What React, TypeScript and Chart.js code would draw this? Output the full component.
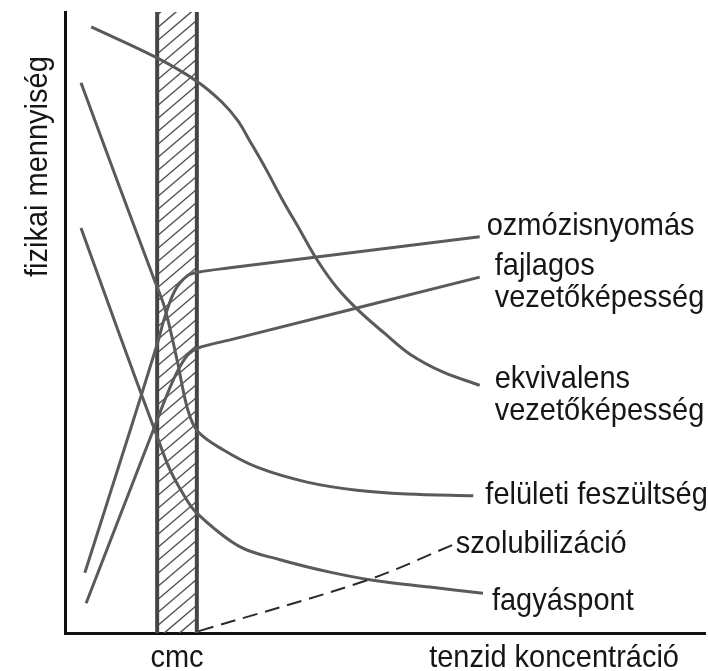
import React, { useEffect, useRef } from 'react';
import { Chart, registerables } from 'chart.js';

Chart.register(...registerables);

// ---- data (x: tenzid koncentráció, y: fizikai mennyiség, both 0..100 relative units) ----
const cmcRange = [14.4, 20.6];
const cmcLabel = 'cmc';
const xAxisTitle = 'tenzid koncentráció';
const yAxisTitle = 'fizikai mennyiség';

const ozmozisX = [3.1, 10.2, 14.4, 15.6, 17.2, 19.1, 20.8, 25.8, 64.8];
const ozmozisY = [9.7, 32.7, 46.5, 50.9, 55.2, 57.5, 58.1, 58.8, 63.8];

const fajlagosX = [3.3, 13.8, 15.6, 17.5, 19.2, 20.8, 25.8, 64.8];
const fajlagosY = [4.8, 32.7, 37.5, 42.0, 44.8, 45.9, 47.2, 57.3];

const ekvivalensX = [4.1, 14.4, 20.8, 24.5, 27.0, 28.9, 31.3, 33.9, 36.7, 39.5, 42.5, 46.1, 50.0, 53.9, 59.1, 64.8];
const ekvivalensY = [97.6, 92.6, 88.7, 85.5, 82.5, 79.2, 74.9, 69.9, 64.9, 59.9, 55.6, 51.7, 48.2, 44.9, 42.0, 39.9];

const feluletiX = [2.5, 8.1, 13.8, 15.6, 17.5, 19.2, 20.8, 24.7, 30.0, 37.8, 45.6, 53.4, 63.8];
const feluletiY = [88.6, 73.0, 57.3, 52.3, 44.0, 35.9, 32.4, 29.5, 26.7, 24.3, 23.0, 22.4, 22.1];

const szolubX = [20.9, 47.2, 60.6];
const szolubY = [0.3, 8.5, 14.2];

const fagyasX = [2.5, 8.4, 14.4, 16.4, 18.4, 20.6, 27.3, 33.6, 41.4, 48.1, 57.0, 65.3];
const fagyasY = [65.2, 48.4, 31.6, 26.3, 22.5, 19.3, 13.9, 11.8, 9.8, 8.5, 7.4, 6.4];

const seriesNames = [
  ['ozmózisnyomás'],
  ['fajlagos', 'vezetőképesség'],
  ['ekvivalens', 'vezetőképesség'],
  ['felületi feszültség'],
  ['szolubilizáció'],
  ['fagyáspont'],
];

const toPoints = (xs: number[], ys: number[]) => xs.map((x, i) => ({ x, y: ys[i] }));

const FONT = "29px 'Liberation Sans', Arial, Helvetica, sans-serif";
const TEXT_COLOR = '#161616';
const CURVE_COLOR = '#5a5a5a';
const TEXT_STRETCH = 1.08;

// label offsets (px) from each series' last point
const labelStyle = [
  { dx: 7, dy: -2 },
  { dx: 15, dy: -2 },
  { dx: 15, dy: 3 },
  { dx: 12, dy: 8 },
  { dx: 3, dy: 8 },
  { dx: 9, dy: 17 },
];
const LINE_GAP = 32;

function drawText(ctx: CanvasRenderingContext2D, text: string, x: number, y: number, align: CanvasTextAlign) {
  ctx.save();
  ctx.translate(x, y);
  ctx.scale(1, TEXT_STRETCH);
  ctx.textAlign = align;
  ctx.fillText(text, 0, 0);
  ctx.restore();
}

const bandPlugin = {
  id: 'cmcBand',
  beforeDatasetsDraw(chart: any) {
    const { ctx, chartArea, scales } = chart;
    const x0 = scales.x.getPixelForValue(cmcRange[0]);
    const x1 = scales.x.getPixelForValue(cmcRange[1]);
    const top = chartArea.top;
    const bottom = chartArea.bottom;
    ctx.save();
    ctx.beginPath();
    ctx.rect(x0, top, x1 - x0, bottom - top);
    ctx.clip();
    ctx.strokeStyle = '#555';
    ctx.lineWidth = 1.5;
    const rise = (x1 - x0) * 0.85;
    ctx.beginPath();
    for (let y = top - 10; y < bottom + rise + 13; y += 13) {
      ctx.moveTo(x0, y);
      ctx.lineTo(x1, y - rise);
    }
    ctx.stroke();
    ctx.restore();

    ctx.save();
    ctx.strokeStyle = '#454545';
    ctx.lineWidth = 4;
    ctx.beginPath();
    ctx.moveTo(x0, top);
    ctx.lineTo(x0, bottom);
    ctx.moveTo(x1, top);
    ctx.lineTo(x1, bottom);
    ctx.stroke();
    ctx.restore();
  },
};

const textPlugin = {
  id: 'texts',
  afterDraw(chart: any) {
    const { ctx, chartArea, scales } = chart;
    ctx.save();
    ctx.font = FONT;
    ctx.fillStyle = TEXT_COLOR;
    ctx.textBaseline = 'alphabetic';
    chart.data.datasets.forEach((ds: any, i: number) => {
      const meta = chart.getDatasetMeta(i);
      const last = meta.data[meta.data.length - 1];
      if (!last) return;
      const st = labelStyle[i];
      seriesNames[i].forEach((line, j) => {
        drawText(ctx, line, last.x + st.dx, last.y + st.dy + j * LINE_GAP, 'left');
      });
    });

    // x axis: cmc label under band, title at right end
    const xc = (scales.x.getPixelForValue(cmcRange[0]) + scales.x.getPixelForValue(cmcRange[1])) / 2;
    drawText(ctx, cmcLabel, xc, chartArea.bottom + 34, 'center');
    drawText(ctx, xAxisTitle, chartArea.right - 26, chartArea.bottom + 34, 'right');

    // y axis title (rotated)
    ctx.translate(chartArea.left - 18, chartArea.top + 265);
    ctx.rotate(-Math.PI / 2);
    ctx.scale(1, TEXT_STRETCH);
    ctx.textAlign = 'left';
    ctx.fillText(yAxisTitle, 0, 0);
    ctx.restore();
  },
};

export default function App() {
  const ref = useRef<HTMLCanvasElement | null>(null);

  useEffect(() => {
    if (!ref.current) return;
    const solid = {
      showLine: true,
      pointRadius: 0,
      borderColor: CURVE_COLOR,
      borderWidth: 3,
      tension: 0.35,
      fill: false,
    };
    const chart = new Chart(ref.current, {
      type: 'scatter',
      data: {
        datasets: [
          { ...solid, label: seriesNames[0].join(' '), data: toPoints(ozmozisX, ozmozisY) },
          { ...solid, label: seriesNames[1].join(' '), data: toPoints(fajlagosX, fajlagosY) },
          { ...solid, label: seriesNames[2].join(' '), data: toPoints(ekvivalensX, ekvivalensY) },
          { ...solid, label: seriesNames[3].join(' '), data: toPoints(feluletiX, feluletiY) },
          {
            ...solid,
            label: seriesNames[4].join(' '),
            data: toPoints(szolubX, szolubY),
            borderColor: '#2a2a2a',
            borderWidth: 2,
            borderDash: [15, 8],
          },
          { ...solid, label: seriesNames[5].join(' '), data: toPoints(fagyasX, fagyasY) },
        ],
      },
      options: {
        responsive: false,
        animation: false,
        devicePixelRatio: 1,
        layout: { padding: { left: 65, top: 12, right: 3, bottom: 38 } },
        plugins: { legend: { display: false }, tooltip: { enabled: false } },
        scales: {
          x: {
            type: 'linear',
            min: 0,
            max: 100,
            ticks: { display: false },
            grid: { display: false, drawTicks: false },
            border: { display: true, color: '#111', width: 3 },
          },
          y: {
            type: 'linear',
            min: 0,
            max: 100,
            ticks: { display: false },
            grid: { display: false, drawTicks: false },
            border: { display: true, color: '#111', width: 3 },
          },
        },
      },
      plugins: [bandPlugin, textPlugin],
    });
    return () => chart.destroy();
  }, []);

  return (
    <div style={{ position: 'absolute', left: 0, top: 0, width: 708, height: 671, background: '#fff' }}>
      <canvas ref={ref} width={708} height={671} style={{ display: 'block' }} />
    </div>
  );
}
